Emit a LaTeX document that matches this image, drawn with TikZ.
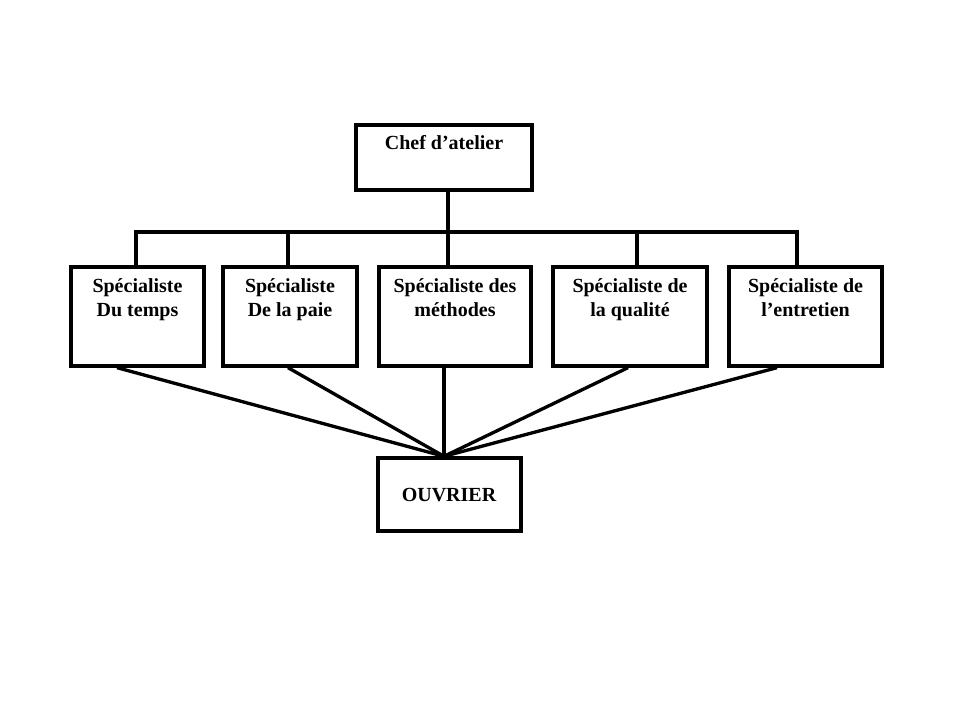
\documentclass[tikz,border=0pt]{standalone}
\usepackage{fontspec}
\setmainfont{Liberation Serif}
\begin{document}
\begin{tikzpicture}[x=0.75pt,y=-0.75pt,
  bx/.style 2 args={draw, line width=2.5pt, minimum width=#1*0.75pt, minimum height=#2*0.75pt, inner sep=0pt},
  txt/.style={anchor=base, inner sep=0pt, font=\fontsize{15}{18}\selectfont\bfseries},
  conn/.style={line width=2.5pt}]
\useasboundingbox (0,0) rectangle (954,716);
% boxes
\node[bx={176}{65}] (chef) at (444,157.5) {};
\node[bx={133}{99}] (b1) at (137.5,316.5) {};
\node[bx={134}{99}] (b2) at (290,316.5) {};
\node[bx={152}{99}] (b3) at (455,316.5) {};
\node[bx={154}{99}] (b4) at (630,316.5) {};
\node[bx={153}{99}] (b5) at (805.5,316.5) {};
\node[bx={143}{73}] (ouv) at (449.5,494.5) {};
% texts
\node[txt] (tchef) at (444,150) {Chef d’atelier};
\node[txt] (t1a) at (137.5,293) {Spécialiste};
\node[txt] (t1b) at (137.5,317) {Du temps};
\node[txt] (t2a) at (290,293) {Spécialiste};
\node[txt] (t2b) at (290,317) {De la paie};
\node[txt] (t3a) at (455,293) {Spécialiste des};
\node[txt] (t3b) at (455,317) {méthodes};
\node[txt] (t4a) at (630,293) {Spécialiste de};
\node[txt] (t4b) at (630,317) {la qualité};
\node[txt] (t5a) at (805.5,293) {Spécialiste de};
\node[txt] (t5b) at (805.5,317) {l’entretien};
\node[txt] (tou) at (449,502) {OUVRIER};
% bus
\coordinate (busL) at (136,232);
\coordinate (busR) at (797,232);
\draw[conn] ([xshift=-1.125pt]b1.north) -- (busL) -- (busR) -- ([xshift=-6.375pt]b5.north);
\draw[conn] ([xshift=-1.5pt]b2.north) -- ([xshift=-1.5pt]b2.north |- busL);
\draw[conn] ([xshift=3pt]chef.south) -- ([xshift=-5.25pt]b3.north);
\draw[conn] ([xshift=5.25pt]b4.north) -- ([xshift=5.25pt]b4.north |- busL);
% lower lines
\coordinate (conv) at ([xshift=-4.125pt]ouv.north);
\draw[conn] ([xshift=-15.375pt]b1.south) -- (conv);
\draw[conn] ([xshift=-1.5pt]b2.south) -- (conv);
\draw[conn] ([xshift=-8.25pt]b3.south) -- (conv);
\draw[conn] ([xshift=-1.5pt]b4.south) -- (conv);
\draw[conn] ([xshift=-21.375pt]b5.south) -- (conv);
\end{tikzpicture}
\end{document}
